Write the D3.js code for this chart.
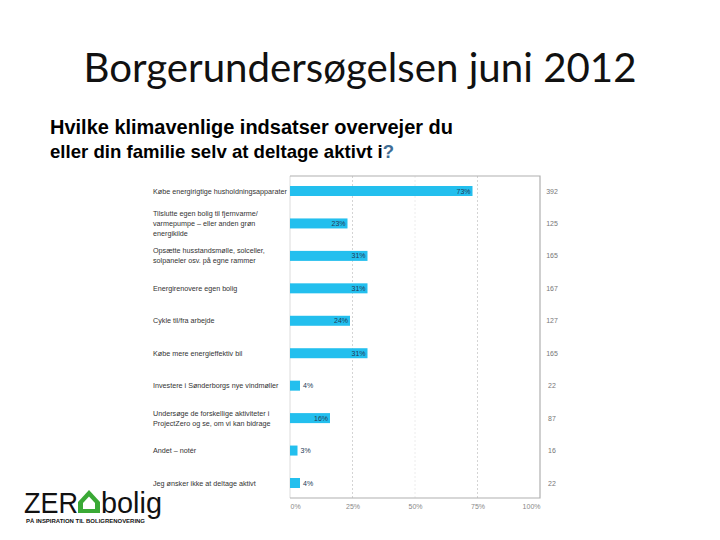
<!DOCTYPE html>
<html><head><meta charset="utf-8">
<script src="https://cdn.jsdelivr.net/npm/d3@7"></script>
<style>body{margin:0;background:#fff}svg{display:block}</style>
</head><body>
<script>
const categories = [
  ["Købe energirigtige husholdningsapparater"],
  ["Tilslutte egen bolig til fjernvarme/", "varmepumpe – eller anden grøn", "energikilde"],
  ["Opsætte husstandsmølle, solceller,", "solpaneler osv. på egne rammer"],
  ["Energirenovere egen bolig"],
  ["Cykle til/fra arbejde"],
  ["Købe mere energieffektiv bil"],
  ["Investere i Sønderborgs nye vindmøller"],
  ["Undersøge de forskellige aktiviteter i", "ProjectZero og se, om vi kan bidrage"],
  ["Andet – notér"],
  ["Jeg ønsker ikke at deltage aktivt"]
];
const percents = [73, 23, 31, 31, 24, 31, 4, 16, 3, 4];
const counts = [392, 125, 165, 167, 127, 165, 22, 87, 16, 22];
const ticks = [0, 25, 50, 75, 100];
const tickLabels = ["0%", "25%", "50%", "75%", "100%"];

const W = 720, H = 540;
const svg = d3.select("body").append("svg").attr("width", W).attr("height", H);

// Title
svg.append("text").attr("x", 360).attr("y", 82).attr("text-anchor", "middle")
  .style("font-family", "Lato, 'Open Sans', sans-serif").style("font-size", "40px")
  .attr("fill", "#111").attr("textLength", 553).attr("lengthAdjust", "spacingAndGlyphs")
  .text("Borgerundersøgelsen juni 2012");

const sub = svg.append("g").style("font-family", "'Liberation Sans', Arial, sans-serif")
  .style("font-weight", "bold").attr("fill", "#000");
sub.append("text").attr("x", 50).attr("y", 134).style("font-size", "19.5px").attr("textLength", 403)
  .attr("lengthAdjust", "spacingAndGlyphs").text("Hvilke klimavenlige indsatser overvejer du");
const t2 = sub.append("text").attr("x", 50).attr("y", 158).style("font-size", "18.6px");
t2.append("tspan").text("eller din familie selv at deltage aktivt i");
t2.append("tspan").attr("fill", "#3f6d95").text("?");

// Chart
const idx = d3.range(categories.length);
const x = d3.scaleLinear().domain([0, 100]).range([290, 540]);
const y = d3.scalePoint().domain(idx).range([191, 483]);
const plotTop = 176, plotBottom = 498, barH = 10;
const font = "'Liberation Sans', Arial, sans-serif";

// gridlines
const g = svg.append("g");
g.selectAll("line.grid").data([25, 50, 75]).join("line")
  .attr("x1", d => x(d)).attr("x2", d => x(d)).attr("y1", plotTop).attr("y2", plotBottom)
  .attr("stroke", d => d === 50 ? "#ececec" : "#d4d4d4").attr("stroke-dasharray", "2,2");
g.append("line").attr("x1", x(0)).attr("x2", x(0)).attr("y1", plotTop).attr("y2", plotBottom)
  .attr("stroke", "#dcdcdc");
g.append("path").attr("d", `M${x(0)},${plotTop}H${x(100)}V${plotBottom}H${x(0)}`)
  .attr("fill", "none").attr("stroke", "#b0b0b0").attr("stroke-width", 1.2);

// bars
g.selectAll("rect.bar").data(idx).join("rect")
  .attr("x", x(0)).attr("y", i => y(i) - barH / 2)
  .attr("width", i => x(percents[i]) - x(0)).attr("height", barH)
  .attr("fill", "#23bfee");

// value labels
g.selectAll("text.val").data(idx).join("text")
  .attr("x", i => percents[i] >= 10 ? x(percents[i]) - 2 : x(percents[i]) + 3)
  .attr("y", i => y(i) + 2.5)
  .attr("text-anchor", i => percents[i] >= 10 ? "end" : "start")
  .style("font-family", font).style("font-size", "7px").attr("fill", "#223a55")
  .text(i => percents[i] + "%");

// category labels
const cl = g.selectAll("text.cat").data(idx).join("text")
  .style("font-family", font).style("font-size", "7.2px").attr("fill", "#333");
cl.each(function(i) {
  const lines = categories[i];
  const n = lines.length, lh = 10;
  d3.select(this).selectAll("tspan").data(lines).join("tspan")
    .attr("x", 153).attr("y", (d, k) => y(i) + 2.5 + (k - (n - 1) / 2) * lh)
    .text(d => d);
});

// counts
g.selectAll("text.cnt").data(idx).join("text")
  .attr("x", 552).attr("y", i => y(i) + 2.5).attr("text-anchor", "middle")
  .style("font-family", font).style("font-size", "7px").attr("fill", "#777")
  .text(i => counts[i]);

// x axis
const ax = svg.append("g").attr("transform", `translate(0,${plotBottom})`)
  .call(d3.axisBottom(x).tickValues(ticks).tickSize(0).tickPadding(6)
    .tickFormat((d, k) => tickLabels[k]));
ax.select(".domain").remove();
ax.selectAll("text").style("font-family", font).style("font-size", "7px").attr("fill", "#888")
  .attr("text-anchor", (d, k) => k === 0 ? "start" : (k === ticks.length - 1 ? "end" : "middle"));

// Logo
const logo = svg.append("g");
logo.append("text").attr("x", 24).attr("y", 513)
  .style("font-family", "'Liberation Sans', Arial, sans-serif").style("font-size", "30px")
  .attr("fill", "#111").attr("textLength", 54).attr("lengthAdjust", "spacingAndGlyphs").text("ZER");
logo.append("path").attr("d", "M78,502 L89,490 L100,502 L100,513 L78,513 Z").attr("fill", "#3aa935");
logo.append("path").attr("d", "M83,503 L89,496.5 L95,503 L95,509 L83,509 Z").attr("fill", "#fff");
logo.append("text").attr("x", 101).attr("y", 513)
  .style("font-family", "'Liberation Sans', Arial, sans-serif").style("font-size", "30px")
  .attr("fill", "#111").attr("textLength", 61).attr("lengthAdjust", "spacingAndGlyphs").text("bolig");
logo.append("text").attr("x", 26).attr("y", 522.5)
  .style("font-family", "'Liberation Sans', Arial, sans-serif").style("font-size", "5.5px")
  .style("font-weight", "bold").attr("fill", "#111")
  .attr("textLength", 119).attr("lengthAdjust", "spacingAndGlyphs")
  .text("PÅ INSPIRATION TIL BOLIGRENOVERING");
</script>
</body></html>
